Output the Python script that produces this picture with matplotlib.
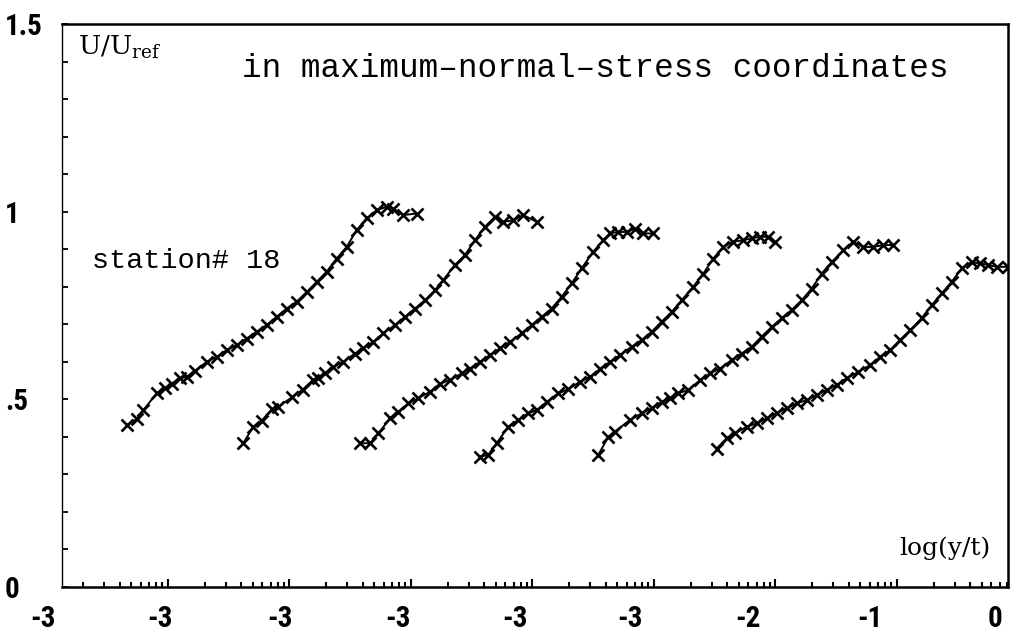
import numpy as np
import matplotlib.pyplot as plt

# profile data, x in decades of log(y/t) (each station profile shifted by one decade)
x1 = [-0.340, -0.258, -0.203, -0.093, -0.025, 0.030, 0.099, 0.154, 0.222, 0.319, 0.401,
      0.483, 0.565, 0.648, 0.730, 0.812, 0.895, 0.977, 1.059, 1.142, 1.224, 1.306,
      1.388, 1.471, 1.553, 1.635, 1.718, 1.800, 1.854, 1.937, 2.047]
y1 = [0.431, 0.447, 0.471, 0.516, 0.529, 0.542, 0.556, 0.560, 0.576, 0.600, 0.613,
      0.631, 0.644, 0.662, 0.680, 0.698, 0.720, 0.742, 0.760, 0.786, 0.813, 0.840,
      0.875, 0.906, 0.951, 0.982, 1.004, 1.013, 1.008, 0.991, 0.995]

x2 = [0.620, 0.702, 0.771, 0.853, 0.908, 1.018, 1.109, 1.191, 1.237, 1.292, 1.356,
      1.443, 1.539, 1.607, 1.690, 1.772, 1.868, 1.951, 2.033, 2.115, 2.198, 2.266,
      2.362, 2.444, 2.527, 2.609, 2.691, 2.760, 2.842, 2.924, 3.035]
y2 = [0.383, 0.427, 0.443, 0.473, 0.480, 0.505, 0.526, 0.551, 0.558, 0.569, 0.585,
      0.600, 0.622, 0.636, 0.653, 0.676, 0.698, 0.720, 0.742, 0.764, 0.791, 0.818,
      0.858, 0.884, 0.924, 0.960, 0.986, 0.973, 0.977, 0.991, 0.973]

x3 = [1.580, 1.663, 1.731, 1.827, 1.895, 1.978, 2.060, 2.156, 2.239, 2.321, 2.417,
      2.486, 2.568, 2.650, 2.733, 2.815, 2.911, 2.993, 3.076, 3.158, 3.240, 3.323,
      3.405, 3.500, 3.583, 3.638, 3.706, 3.775, 3.844, 3.912, 3.994]
y3 = [0.383, 0.383, 0.409, 0.449, 0.467, 0.489, 0.503, 0.520, 0.542, 0.551, 0.569,
      0.582, 0.600, 0.618, 0.636, 0.653, 0.676, 0.698, 0.720, 0.742, 0.773, 0.809,
      0.849, 0.893, 0.924, 0.942, 0.946, 0.946, 0.955, 0.942, 0.942]

x4 = [2.568, 2.636, 2.705, 2.801, 2.883, 2.965, 3.035, 3.117, 3.212, 3.295, 3.391,
      3.473, 3.556, 3.638, 3.720, 3.816, 3.899, 3.981, 4.063, 4.146, 4.228, 4.323,
      4.406, 4.488, 4.570, 4.653, 4.735, 4.804, 4.872, 4.941, 4.996]
y4 = [0.347, 0.352, 0.383, 0.427, 0.445, 0.463, 0.471, 0.493, 0.516, 0.527, 0.547,
      0.560, 0.581, 0.600, 0.618, 0.640, 0.658, 0.680, 0.707, 0.733, 0.764, 0.800,
      0.835, 0.875, 0.906, 0.920, 0.924, 0.929, 0.933, 0.933, 0.920]

x5 = [3.542, 3.624, 3.679, 3.802, 3.899, 3.981, 4.063, 4.132, 4.200, 4.282, 4.379,
      4.461, 4.543, 4.640, 4.722, 4.804, 4.886, 4.969, 5.051, 5.133, 5.216, 5.298,
      5.380, 5.463, 5.558, 5.640, 5.723, 5.805, 5.887, 5.970]
y5 = [0.352, 0.400, 0.414, 0.445, 0.463, 0.476, 0.493, 0.503, 0.516, 0.525, 0.551,
      0.569, 0.582, 0.605, 0.622, 0.640, 0.667, 0.693, 0.716, 0.738, 0.764, 0.795,
      0.835, 0.866, 0.897, 0.920, 0.906, 0.906, 0.911, 0.911]

x6 = [4.516, 4.598, 4.667, 4.763, 4.845, 4.928, 5.010, 5.092, 5.175, 5.257, 5.339,
      5.421, 5.504, 5.586, 5.681, 5.778, 5.860, 5.942, 6.025, 6.107, 6.203, 6.286,
      6.368, 6.450, 6.533, 6.615, 6.683, 6.751, 6.821, 6.910]
y6 = [0.369, 0.396, 0.409, 0.427, 0.436, 0.449, 0.463, 0.476, 0.489, 0.498, 0.511,
      0.525, 0.538, 0.556, 0.573, 0.591, 0.613, 0.631, 0.658, 0.684, 0.716, 0.751,
      0.782, 0.813, 0.849, 0.866, 0.862, 0.858, 0.853, 0.853]

# x tick labels as printed on the original plot, and where they sit
xlab_pos = [-1.029, -0.066, 0.922, 1.893, 2.856, 3.802, 4.774, 5.778, 6.807]
xlab_txt = ['-3', '-3', '-3', '-3', '-3', '-3', '-2', '-1', '0']
ytick_pos = [0, 0.5, 1.0, 1.5]
ytick_txt = ['0', '.5', '1', '1.5']

tick_font = ['Roboto Condensed', 'DejaVu Sans']

fig = plt.figure(figsize=(10.14, 6.41), dpi=100)
ax = fig.add_axes([62 / 1014, 54 / 641, 946 / 1014, 563 / 641])

for xs, ys in [(x1, y1), (x2, y2), (x3, y3), (x4, y4), (x5, y5), (x6, y6)]:
    ax.plot(xs, ys, '-', color='black', lw=1.4, marker='x', ms=8.5, mew=1.9)

ax.set_xlim(-0.872, 6.914)
ax.set_ylim(0, 1.5)

# decade ticks and log minor ticks
ax.set_xticks(range(0, 7))
ax.set_xticklabels([])
minor = []
for k in range(-1, 7):
    for j in range(2, 10):
        v = k + np.log10(j)
        if -0.872 < v < 6.914:
            minor.append(v)
ax.set_xticks(minor, minor=True)
ax.tick_params(axis='x', which='major', direction='in', length=6, width=1.5)
ax.tick_params(axis='x', which='minor', direction='in', length=3.5, width=1.5)

ax.set_yticks(ytick_pos)
ax.set_yticklabels(ytick_txt, family=tick_font, weight='bold', fontsize=21, stretch='condensed')
ax.set_yticks(np.arange(0.1, 1.5, 0.1), minor=True)
ax.tick_params(axis='y', which='both', direction='in', length=4.5, width=1.3, pad=41)
for lab in ax.get_yticklabels():
    lab.set_horizontalalignment('left')

for p, t in zip(xlab_pos, xlab_txt):
    ax.text(p, -0.057, t, transform=ax.get_xaxis_transform(), ha='center', va='center',
            family=tick_font, weight='bold', fontsize=21, stretch='condensed')

for s in ax.spines.values():
    s.set_linewidth(1.8)
ax.spines['left'].set_linewidth(1.0)

plt.rcParams['mathtext.fontset'] = 'dejavuserif'
ax.text(0.017, 0.945, r'$\mathrm{U/U_{ref}}$', transform=ax.transAxes, family='DejaVu Serif',
        fontsize=19, va='baseline')
ax.text(0.19, 0.905, 'in maximum\u2013normal\u2013stress coordinates', transform=ax.transAxes,
        family='Liberation Mono', fontsize=23.5, va='baseline')
ax.text(0.032, 0.567, 'station# 18', transform=ax.transAxes, family='Liberation Mono',
        fontsize=20.5, va='baseline')
ax.text(0.982, 0.057, 'log(y/t)', transform=ax.transAxes, family='DejaVu Serif',
        fontsize=18, va='baseline', ha='right')

plt.savefig('out.png', dpi=100)
